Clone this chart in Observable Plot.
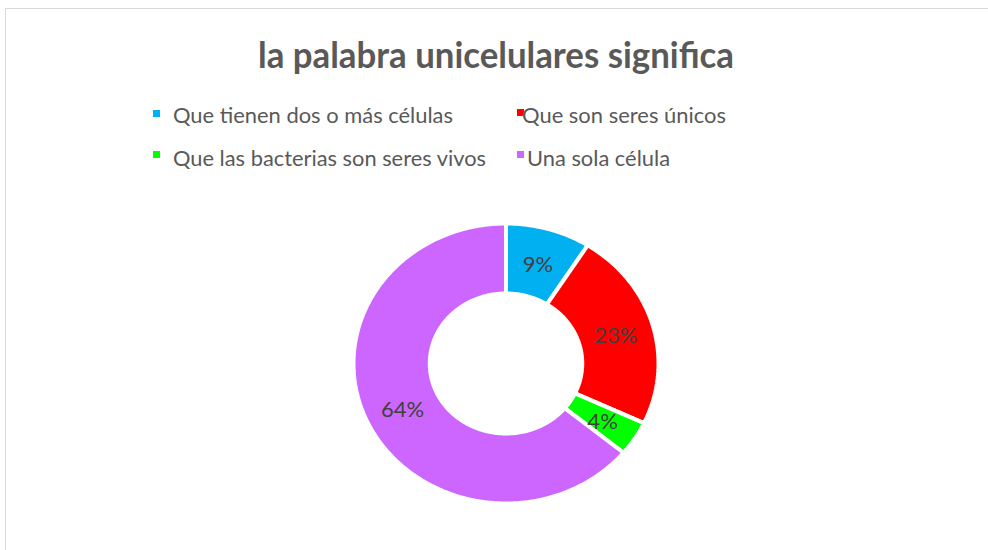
<!DOCTYPE html>
<html><head><meta charset="utf-8">
<script src="https://cdn.jsdelivr.net/npm/d3@7"></script>
<script src="https://cdn.jsdelivr.net/npm/@observablehq/plot@0.6"></script>
<style>
html,body{margin:0;padding:0;background:#fff;overflow:hidden;}
#wrap{position:relative;width:988px;height:550px;overflow:hidden;font-family:Lato,"Open Sans",sans-serif;}
#frame{position:absolute;left:5px;top:8px;width:1200px;height:800px;border:1px solid #d9d9d9;}
#header{position:relative;height:190px;}
.t{position:absolute;white-space:nowrap;line-height:1;transform-origin:0 0;}
#title{font-weight:700;color:#595959;}
.leg{color:#595959;}
.sw{position:absolute;width:7px;height:7px;}
#chart{position:relative;}
</style></head><body>
<div id="wrap"><div id="frame"></div><div id="header"></div><div id="chart"></div></div>
<script>
// ---- data ----
const title = "la palabra unicelulares significa";
const categories = ["Que tienen dos o más células", "Que son seres únicos", "Que las bacterias son seres vivos", "Una sola célula"];
const values = [9, 23, 4, 64];
const colors = ["#00B0F0", "#FF0000", "#00FF00", "#CC66FF"];

// ---- layout (positions in page pixels) ----
const titleLayout = {left: 258, baseline: 68, size: 35.5, width: 476};
const legendLayout = [
  {swX: 153, swY: 109.5, x: 173, baseline: 124, width: 280},
  {swX: 516.5, swY: 108.5, x: 521.5, baseline: 124, width: 204},
  {swX: 153, swY: 151, x: 173, baseline: 167, width: 313},
  {swX: 516.5, swY: 150.5, x: 527, baseline: 167, width: 143}
];
const legendSize = 21.5;
const ASC = 0.887; // baseline offset for line-height:1 (Lato)

const header = document.getElementById("header");
function addText(str, cls, left, baseline, size, width, id) {
  const el = document.createElement("span");
  el.className = "t " + cls;
  if (id) el.id = id;
  el.textContent = str;
  el.style.fontSize = size + "px";
  el.style.left = left + "px";
  el.style.top = (baseline - ASC * size) + "px";
  header.appendChild(el);
  const w = el.getBoundingClientRect().width;
  if (w > 0) el.style.transform = `scaleX(${width / w})`;
  return el;
}
addText(title, "", titleLayout.left, titleLayout.baseline, titleLayout.size, titleLayout.width, "title");

categories.forEach((c, i) => {
  const L = legendLayout[i];
  const sw = document.createElement("div");
  sw.className = "sw";
  sw.style.left = L.swX + "px";
  sw.style.top = L.swY + "px";
  sw.style.background = colors[i];
  header.appendChild(sw);
  addText(c, "leg", L.x, L.baseline, legendSize, L.width);
});

// ---- donut geometry from values ----
const total = d3.sum(values);
const rOuter = 1, rInner = 0.5, rLabel = 0.75;
let acc = 0;
const ring = [];
const labelPts = [];
categories.forEach((c, i) => {
  const a0 = acc / total * 2 * Math.PI;
  acc += values[i];
  const a1 = acc / total * 2 * Math.PI;
  const n = Math.max(2, Math.ceil((a1 - a0) / (Math.PI / 180)));
  const pts = [];
  for (let k = 0; k <= n; k++) { const a = a0 + (a1 - a0) * k / n; pts.push([Math.sin(a) * rOuter, Math.cos(a) * rOuter]); }
  for (let k = n; k >= 0; k--) { const a = a0 + (a1 - a0) * k / n; pts.push([Math.sin(a) * rInner, Math.cos(a) * rInner]); }
  pts.push(pts[0]);
  pts.forEach(p => ring.push({cat: c, x: p[0], y: p[1]}));
  const am = (a0 + a1) / 2;
  labelPts.push({cat: c, x: Math.sin(am) * rLabel, y: Math.cos(am) * rLabel, text: values[i] + "%"});
});

const plot = Plot.plot({
  width: 988, height: 360,
  marginLeft: 353, marginRight: 330, marginTop: 33, marginBottom: 47,
  x: {domain: [-1, 1], axis: null},
  y: {domain: [-1, 1], axis: null},
  color: {domain: categories, range: colors},
  style: {background: "transparent", fontFamily: "Lato, sans-serif", overflow: "visible"},
  marks: [
    Plot.line(ring, {x: "x", y: "y", z: "cat", fill: "cat", stroke: "white", strokeWidth: 4, strokeLinejoin: "miter"}),
    Plot.text(labelPts, {x: "x", y: "y", text: "text", fill: "#404040", fontSize: 22, fontFamily: "Lato, sans-serif", dy: 2})
  ]
});
document.getElementById("chart").appendChild(plot);
</script>
</body></html>
